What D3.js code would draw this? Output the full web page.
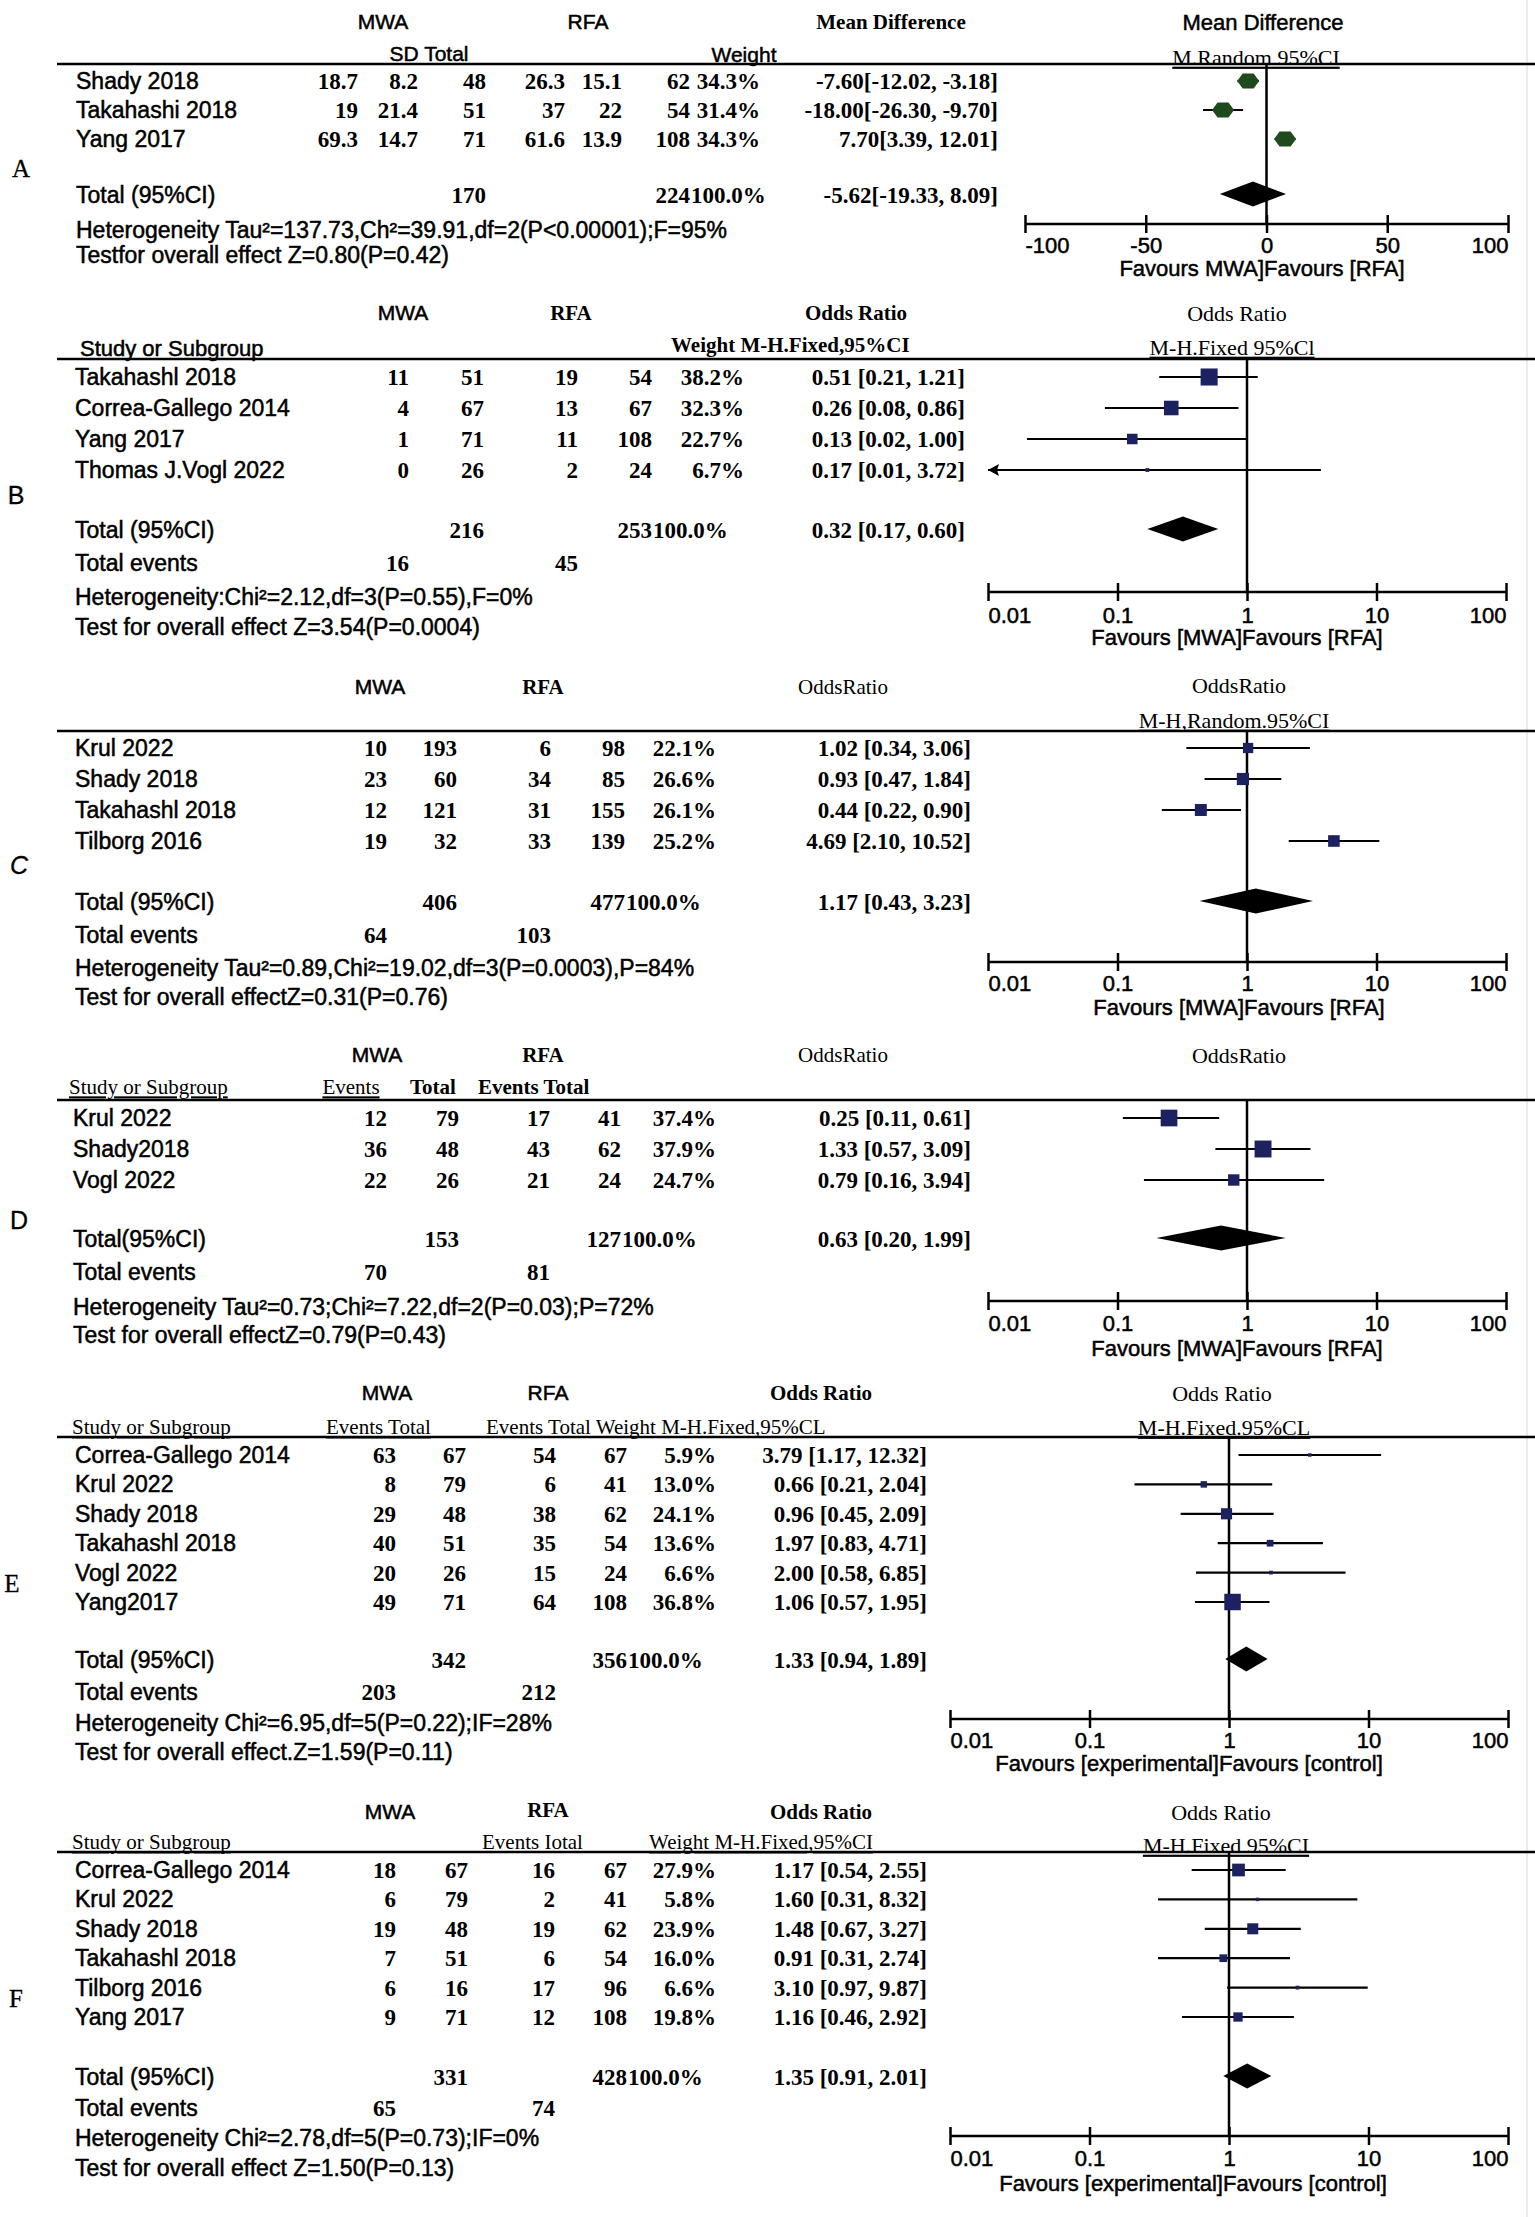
<!DOCTYPE html>
<html><head><meta charset="utf-8">
<script src="https://cdn.jsdelivr.net/npm/d3@7"></script>
<style>body{margin:0;background:#fff}</style>
</head><body><svg id="c" width="1535" height="2217"></svg>
<script>
// ---------------- DATA ----------------
// Panel A (mean difference)
const aStudies=["Shady 2018","Takahashi 2018","Yang 2017"];
const aMwaMean=[18.7,19,69.3];
const aMwaSD=[8.2,21.4,14.7];
const aMwaTotal=[48,51,71];
const aRfaMean=[26.3,37,61.6];
const aRfaSD=[15.1,22,13.9];
const aRfaTotal=[62,54,108];
const aWeight=[34.3,31.4,34.3];
const aEst=[-7.60,-18.00,7.70];
const aLow=[-12.02,-26.30,3.39];
const aHigh=[-3.18,-9.70,12.01];
const aTotals=[170,224];
const aPooled=[-5.62,-19.33,8.09];
const aTicks=[-100,-50,0,50,100];
const aTickLabels=["-100","-50","0","50","100"];

// Panel B
const bStudies=["Takahashl 2018","Correa-Gallego 2014","Yang 2017","Thomas J.Vogl 2022"];
const bMwaEvents=[11,4,1,0];
const bMwaTotal=[51,67,71,26];
const bRfaEvents=[19,13,11,2];
const bRfaTotal=[54,67,108,24];
const bWeight=[38.2,32.3,22.7,6.7];
const bOR=[0.51,0.26,0.13,0.17];
const bLow=[0.21,0.08,0.02,0.01];
const bHigh=[1.21,0.86,1.00,3.72];
const bTotals=[216,253];
const bEvents=[16,45];
const bPooled=[0.32,0.17,0.60];

// Panel C
const cStudies=["Krul 2022","Shady 2018","Takahashl 2018","Tilborg 2016"];
const cMwaEvents=[10,23,12,19];
const cMwaTotal=[193,60,121,32];
const cRfaEvents=[6,34,31,33];
const cRfaTotal=[98,85,155,139];
const cWeight=[22.1,26.6,26.1,25.2];
const cOR=[1.02,0.93,0.44,4.69];
const cLow=[0.34,0.47,0.22,2.10];
const cHigh=[3.06,1.84,0.90,10.52];
const cTotals=[406,477];
const cEvents=[64,103];
const cPooled=[1.17,0.43,3.23];

// Panel D
const dStudies=["Krul 2022","Shady2018","Vogl 2022"];
const dMwaEvents=[12,36,22];
const dMwaTotal=[79,48,26];
const dRfaEvents=[17,43,21];
const dRfaTotal=[41,62,24];
const dWeight=[37.4,37.9,24.7];
const dOR=[0.25,1.33,0.79];
const dLow=[0.11,0.57,0.16];
const dHigh=[0.61,3.09,3.94];
const dTotals=[153,127];
const dEvents=[70,81];
const dPooled=[0.63,0.20,1.99];

// Panel E
const eStudies=["Correa-Gallego 2014","Krul 2022","Shady 2018","Takahashl 2018","Vogl 2022","Yang2017"];
const eMwaEvents=[63,8,29,40,20,49];
const eMwaTotal=[67,79,48,51,26,71];
const eRfaEvents=[54,6,38,35,15,64];
const eRfaTotal=[67,41,62,54,24,108];
const eWeight=[5.9,13.0,24.1,13.6,6.6,36.8];
const eOR=[3.79,0.66,0.96,1.97,2.00,1.06];
const eLow=[1.17,0.21,0.45,0.83,0.58,0.57];
const eHigh=[12.32,2.04,2.09,4.71,6.85,1.95];
const eTotals=[342,356];
const eEvents=[203,212];
const ePooled=[1.33,0.94,1.89];

// Panel F
const fStudies=["Correa-Gallego 2014","Krul 2022","Shady 2018","Takahashl 2018","Tilborg 2016","Yang 2017"];
const fMwaEvents=[18,6,19,7,6,9];
const fMwaTotal=[67,79,48,51,16,71];
const fRfaEvents=[16,2,19,6,17,12];
const fRfaTotal=[67,41,62,54,96,108];
const fWeight=[27.9,5.8,23.9,16.0,6.6,19.8];
const fOR=[1.17,1.60,1.48,0.91,3.10,1.16];
const fLow=[0.54,0.31,0.67,0.31,0.97,0.46];
const fHigh=[2.55,8.32,3.27,2.74,9.87,2.92];
const fTotals=[331,428];
const fEvents=[65,74];
const fPooled=[1.35,0.91,2.01];

const orTicks=[0.01,0.1,1,10,100];
const orTickLabels=["0.01","0.1","1","10","100"];

const hetTexts=[
 "Heterogeneity Tau\u00b2=137.73,Ch\u00b2=39.91,df=2(P<0.00001);F=95%",
 "Heterogeneity:Chi\u00b2=2.12,df=3(P=0.55),F=0%",
 "Heterogeneity Tau\u00b2=0.89,Chi\u00b2=19.02,df=3(P=0.0003),P=84%",
 "Heterogeneity Tau\u00b2=0.73;Chi\u00b2=7.22,df=2(P=0.03);P=72%",
 "Heterogeneity Chi\u00b2=6.95,df=5(P=0.22);IF=28%",
 "Heterogeneity Chi\u00b2=2.78,df=5(P=0.73);IF=0%"];
const testTexts=[
 "Testfor overall effect Z=0.80(P=0.42)",
 "Test for overall effect Z=3.54(P=0.0004)",
 "Test for overall effectZ=0.31(P=0.76)",
 "Test for overall effectZ=0.79(P=0.43)",
 "Test for overall effect.Z=1.59(P=0.11)",
 "Test for overall effect Z=1.50(P=0.13)"];
const favTexts=["Favours MWA]Favours [RFA]","Favours [MWA]Favours [RFA]","Favours [MWA]Favours [RFA]",
 "Favours [MWA]Favours [RFA]","Favours [experimental]Favours [control]","Favours [experimental]Favours [control]"];
const panelLetters=["A","B","C","D","E","F"];

// ---------------- DRAWING ----------------
const SANS="'Liberation Sans', Arial, Helvetica, sans-serif";
const SERIF="'Liberation Serif', 'Times New Roman', serif";
const svg=d3.select("#c");
svg.append("rect").attr("width",1535).attr("height",2217).attr("fill","#fff");
svg.append("line").attr("x1",1527).attr("x2",1527).attr("y1",0).attr("y2",2217).attr("stroke","#d8d8d8").attr("stroke-width",1);

function txt(g,x,y,t,o){
  o=o||{};
  const s=o.s||21;
  const el=g.append("text").attr("x",x).attr("y",y+s*0.35).text(t)
    .attr("font-family",o.f||SANS).attr("font-size",s).attr("fill","#000")
    .attr("text-anchor",o.a||"start");
  if(o.w) el.attr("font-weight",o.w);
  if(o.i) el.attr("font-style","italic");
  if(o.u) el.attr("text-decoration","underline");
  const sw=(o.sw!==undefined)?o.sw:((o.f||SANS)===SANS?0.5:0);
  if(sw>0) el.attr("stroke","#000").attr("stroke-width",sw);
  return el;
}

const fmt2=v=>v.toFixed(2);
const pct=v=>v.toFixed(1)+"%";

const panels=[
 { // A
  type:"md", studies:aStudies,
  cols:[aMwaMean.map(String),aMwaSD.map(String),aMwaTotal.map(String),aRfaMean.map(String),aRfaSD.map(String),aRfaTotal.map(String)],
  weight:aWeight, est:aEst, low:aLow, high:aHigh, totals:aTotals, events:null, pooled:aPooled,
  ciText:(e,l,h)=>`${fmt2(e)}[${fmt2(l)}, ${fmt2(h)}]`,
  scale:d3.scaleLinear().domain([-100,100]).range([1025,1508]), ref:0, ticks:aTicks, tickLabels:aTickLabels,
  L:{nameX:76,colX:[358,418,486,565,622,690],totCols:[2,5],wX:760,ciX:998,
     lineY:64,row0:81,row1:139,totalY:195,eventsY:null,hetY:230,testY:255,axisY:224,tickY:245,favY:268,favX:1262,
     letter:{x:21,y:168,f:SERIF,i:false}},
  headers:[
   {t:"MWA",x:383,y:22,a:"middle"},{t:"RFA",x:588,y:22,a:"middle"},
   {t:"Mean Difference",x:891,y:22,a:"middle",f:SERIF,w:"bold",s:21},
   {t:"SD Total",x:429,y:54,a:"middle"},{t:"Weight",x:744,y:55,a:"middle"},
   {t:"Mean Difference",x:1263,y:22,a:"middle",s:22},
   {t:"M.Random 95%CI",x:1256,y:57,a:"middle",f:SERIF,u:true,s:22}]
 },
 { // B
  type:"or", studies:bStudies,
  cols:[bMwaEvents,bMwaTotal,bRfaEvents,bRfaTotal].map(a=>a.map(String)),
  weight:bWeight, est:bOR, low:bLow, high:bHigh, totals:bTotals, events:bEvents, pooled:bPooled,
  scale:d3.scaleLog().domain([0.01,100]).range([988,1506]), ref:1,
  L:{nameX:75,colX:[409,484,578,652],totCols:[1,3],evCols:[0,2],wX:744,ciX:965,
     lineY:359,row0:377,row1:470,totalY:530,eventsY:563,hetY:597,testY:627,axisY:592,tickY:615,favY:637,favX:1237,
     letter:{x:16,y:495,f:SANS}},
  headers:[
   {t:"MWA",x:403,y:313,a:"middle"},{t:"RFA",x:571,y:313,a:"middle",f:SERIF,w:"bold"},
   {t:"Odds Ratio",x:856,y:313,a:"middle",f:SERIF,w:"bold",s:21},
   {t:"Study or Subgroup",x:80,y:348,s:22},
   {t:"Weight M-H.Fixed,95%CI",x:671,y:345,f:SERIF,w:"bold",s:21},
   {t:"Odds Ratio",x:1237,y:313,a:"middle",f:SERIF,s:22},
   {t:"M-H.Fixed 95%Cl",x:1232,y:347,a:"middle",f:SERIF,u:true,s:22}]
 },
 { // C
  type:"or", studies:cStudies,
  cols:[cMwaEvents,cMwaTotal,cRfaEvents,cRfaTotal].map(a=>a.map(String)),
  weight:cWeight, est:cOR, low:cLow, high:cHigh, totals:cTotals, events:cEvents, pooled:cPooled,
  scale:d3.scaleLog().domain([0.01,100]).range([988,1506]), ref:1,
  L:{nameX:75,colX:[387,457,551,625],totCols:[1,3],evCols:[0,2],wX:716,ciX:971,
     lineY:731,row0:748,row1:841,totalY:902,eventsY:935,hetY:968,testY:997,axisY:962,tickY:983,favY:1007,favX:1239,
     letter:{x:19,y:865,f:SANS,i:true}},
  headers:[
   {t:"MWA",x:380,y:687,a:"middle"},{t:"RFA",x:543,y:687,a:"middle",f:SERIF,w:"bold"},
   {t:"OddsRatio",x:843,y:687,a:"middle",f:SERIF,s:21},
   {t:"OddsRatio",x:1239,y:685,a:"middle",f:SERIF,s:22},
   {t:"M-H,Random.95%CI",x:1234,y:720,a:"middle",f:SERIF,u:true,s:22}]
 },
 { // D
  type:"or", studies:dStudies,
  cols:[dMwaEvents,dMwaTotal,dRfaEvents,dRfaTotal].map(a=>a.map(String)),
  weight:dWeight, est:dOR, low:dLow, high:dHigh, totals:dTotals, events:dEvents, pooled:dPooled,
  scale:d3.scaleLog().domain([0.01,100]).range([988,1506]), ref:1,
  L:{nameX:73,colX:[387,459,550,621],totCols:[1,3],evCols:[0,2],wX:716,ciX:971,
     lineY:1100,row0:1118,row1:1180,totalY:1239,eventsY:1272,hetY:1307,testY:1335,axisY:1301,tickY:1323,favY:1348,favX:1237,
     letter:{x:19,y:1220,f:SANS}},
  headers:[
   {t:"MWA",x:377,y:1055,a:"middle"},{t:"RFA",x:543,y:1055,a:"middle",f:SERIF,w:"bold"},
   {t:"OddsRatio",x:843,y:1055,a:"middle",f:SERIF,s:21},
   {t:"Study or Subgroup",x:69,y:1087,f:SERIF,u:true,s:21},
   {t:"Events",x:351,y:1087,a:"middle",f:SERIF,u:true,s:21},
   {t:"Total",x:433,y:1087,a:"middle",f:SERIF,w:"bold",s:21},
   {t:"Events Total",x:478,y:1087,f:SERIF,w:"bold",s:21},
   {t:"OddsRatio",x:1239,y:1055,a:"middle",f:SERIF,s:22}]
 },
 { // E
  type:"or", studies:eStudies,
  cols:[eMwaEvents,eMwaTotal,eRfaEvents,eRfaTotal].map(a=>a.map(String)),
  weight:eWeight, est:eOR, low:eLow, high:eHigh, totals:eTotals, events:eEvents, pooled:ePooled,
  scale:d3.scaleLog().domain([0.01,100]).range([950,1508]), ref:1,
  L:{nameX:75,colX:[396,466,556,627],totCols:[1,3],evCols:[0,2],wX:716,ciX:927,
     lineY:1437,row0:1455,row1:1602,totalY:1660,eventsY:1692,hetY:1723,testY:1752,axisY:1719,tickY:1740,favY:1763,favX:1189,
     letter:{x:12,y:1583,f:SERIF}},
  headers:[
   {t:"MWA",x:387,y:1393,a:"middle"},{t:"RFA",x:548,y:1393,a:"middle"},
   {t:"Odds Ratio",x:821,y:1393,a:"middle",f:SERIF,w:"bold",s:21},
   {t:"Study or Subgroup",x:72,y:1427,f:SERIF,u:true,s:21},
   {t:"Events Total",x:326,y:1427,f:SERIF,u:true,s:21},
   {t:"Events Total Weight M-H.Fixed,95%CL",x:486,y:1427,f:SERIF,s:21},
   {t:"Odds Ratio",x:1222,y:1393,a:"middle",f:SERIF,s:22},
   {t:"M-H.Fixed.95%CL",x:1224,y:1427,a:"middle",f:SERIF,u:true,s:22}]
 },
 { // F
  type:"or", studies:fStudies,
  cols:[fMwaEvents,fMwaTotal,fRfaEvents,fRfaTotal].map(a=>a.map(String)),
  weight:fWeight, est:fOR, low:fLow, high:fHigh, totals:fTotals, events:fEvents, pooled:fPooled,
  scale:d3.scaleLog().domain([0.01,100]).range([950,1508]), ref:1,
  L:{nameX:75,colX:[396,468,555,627],totCols:[1,3],evCols:[0,2],wX:716,ciX:927,
     lineY:1852,row0:1870,row1:2017,totalY:2077,eventsY:2108,hetY:2138,testY:2168,axisY:2136,tickY:2158,favY:2183,favX:1193,
     letter:{x:16,y:1998,f:SERIF}},
  headers:[
   {t:"MWA",x:390,y:1812,a:"middle"},{t:"RFA",x:548,y:1810,a:"middle",f:SERIF,w:"bold"},
   {t:"Odds Ratio",x:821,y:1812,a:"middle",f:SERIF,w:"bold",s:21},
   {t:"Study or Subgroup",x:72,y:1842,f:SERIF,u:true,s:21},
   {t:"Events Iotal",x:482,y:1842,f:SERIF,s:21},
   {t:"Weight M-H.Fixed,95%CI",x:649,y:1842,f:SERIF,u:true,s:21},
   {t:"Odds Ratio",x:1221,y:1812,a:"middle",f:SERIF,s:22},
   {t:"M-H.Fixed 95%CI",x:1226,y:1845,a:"middle",f:SERIF,u:true,s:22}]
 }
];

const NUM={f:SERIF,w:"bold",s:23};
const SQ="#1c2260", HEX="#1e4a1e";

panels.forEach((P,pi)=>{
  const L=P.L, g=svg.append("g");
  const x=P.scale;
  const n=P.studies.length;
  const y=d3.scaleLinear().domain([0,n-1]).range([L.row0,L.row1]);
  const [dmin,dmax]=x.domain();

  // headers
  P.headers.forEach(h=>txt(g,h.x,h.y,h.t,{f:h.f,s:h.s||21,w:h.w,a:h.a,u:h.u}));
  // header rule
  g.append("line").attr("x1",57).attr("x2",1535).attr("y1",L.lineY).attr("y2",L.lineY)
    .attr("stroke","#000").attr("stroke-width",2.5);
  // panel letter
  txt(g,L.letter.x,L.letter.y,panelLetters[pi],{f:L.letter.f,s:25,a:"middle",i:L.letter.i,sw:0.3});

  // study rows
  P.studies.forEach((s,i)=>{
    const yy=y(i);
    txt(g,L.nameX,yy,s,{s:23});
    P.cols.forEach((col,c)=>txt(g,L.colX[c],yy,col[i],Object.assign({a:"end"},NUM)));
    txt(g,L.wX,yy,pct(P.weight[i]),Object.assign({a:"end"},NUM));
    const ct=P.ciText?P.ciText(P.est[i],P.low[i],P.high[i]):`${fmt2(P.est[i])} [${fmt2(P.low[i])}, ${fmt2(P.high[i])}]`;
    txt(g,L.ciX,yy,ct,Object.assign({a:"end"},NUM));
  });

  // totals row
  txt(g,L.nameX,L.totalY,pi===3?"Total(95%CI)":"Total (95%CI)",{s:23});
  txt(g,L.colX[L.totCols[0]],L.totalY,String(P.totals[0]),Object.assign({a:"end"},NUM));
  txt(g,L.colX[L.totCols[1]],L.totalY,String(P.totals[1]),Object.assign({a:"end"},NUM));
  txt(g,L.colX[L.totCols[1]]+1,L.totalY,"100.0%",NUM);
  const pt=P.ciText?P.ciText(P.pooled[0],P.pooled[1],P.pooled[2]):`${fmt2(P.pooled[0])} [${fmt2(P.pooled[1])}, ${fmt2(P.pooled[2])}]`;
  txt(g,L.ciX,L.totalY,pt,Object.assign({a:"end"},NUM));
  if(P.events){
    txt(g,L.nameX,L.eventsY,"Total events",{s:23});
    txt(g,L.colX[L.evCols[0]],L.eventsY,String(P.events[0]),Object.assign({a:"end"},NUM));
    txt(g,L.colX[L.evCols[1]],L.eventsY,String(P.events[1]),Object.assign({a:"end"},NUM));
  }
  txt(g,L.nameX,L.hetY,hetTexts[pi],{s:23});
  txt(g,L.nameX,L.testY,testTexts[pi],{s:23});

  // reference line
  g.append("line").attr("x1",x(P.ref)).attr("x2",x(P.ref)).attr("y1",L.lineY).attr("y2",L.axisY)
    .attr("stroke","#000").attr("stroke-width",2.5);

  // axis
  const ticks=P.type==="md"?P.ticks:orTicks;
  const labs=P.type==="md"?P.tickLabels:orTickLabels;
  const ax=d3.axisBottom(x).tickValues(ticks).tickFormat((d,i)=>labs[i]).tickSize(8);
  const ag=g.append("g").attr("transform",`translate(0,${L.axisY})`).call(ax);
  ag.select(".domain").remove();
  ag.append("line").attr("x1",x.range()[0]).attr("x2",x.range()[1]).attr("stroke","#000").attr("stroke-width",2.5);
  ag.selectAll(".tick line").attr("y1",-9).attr("y2",9).attr("stroke","#000").attr("stroke-width",2.5);
  ag.selectAll(".tick text").attr("y",L.tickY-L.axisY+8).attr("dy",null)
    .attr("font-family",SANS).attr("font-size",22).attr("fill","#000")
    .attr("stroke","#000").attr("stroke-width",0.5)
    .attr("text-anchor",(d,i)=>i===0?"start":(i===ticks.length-1?"end":"middle"));
  txt(g,L.favX,L.favY,favTexts[pi],{s:22,a:"middle"});

  // CI lines & markers
  P.studies.forEach((s,i)=>{
    const yy=y(i);
    const lo=Math.max(P.low[i],dmin), hi=Math.min(P.high[i],dmax);
    g.append("line").attr("x1",x(lo)).attr("x2",x(hi)).attr("y1",yy).attr("y2",yy)
      .attr("stroke","#000").attr("stroke-width",2.2);
    if(P.low[i]<=dmin){
      const ax0=x(dmin);
      g.append("path").attr("d",`M${ax0},${yy}L${ax0+11},${yy-6}L${ax0+9},${yy}L${ax0+11},${yy+6}Z`).attr("fill","#000");
    }
    const cx=x(P.est[i]);
    if(P.type==="md"){
      const w=11,h=7.5;
      g.append("path").attr("d",`M${cx-w},${yy}L${cx-w/2},${yy-h}L${cx+w/2},${yy-h}L${cx+w},${yy}L${cx+w/2},${yy+h}L${cx-w/2},${yy+h}Z`)
        .attr("fill",HEX);
    } else {
      const side=Math.max(3,0.42*P.weight[i]+1);
      g.append("rect").attr("x",cx-side/2).attr("y",yy-side/2).attr("width",side).attr("height",side).attr("fill",SQ);
    }
  });
  // pooled diamond
  const dy=L.totalY-1, hh=12.5;
  g.append("path").attr("d",`M${x(P.pooled[1])},${dy}L${x(P.pooled[0])},${dy-hh}L${x(P.pooled[2])},${dy}L${x(P.pooled[0])},${dy+hh}Z`)
    .attr("fill","#000");
});
</script></body></html>
